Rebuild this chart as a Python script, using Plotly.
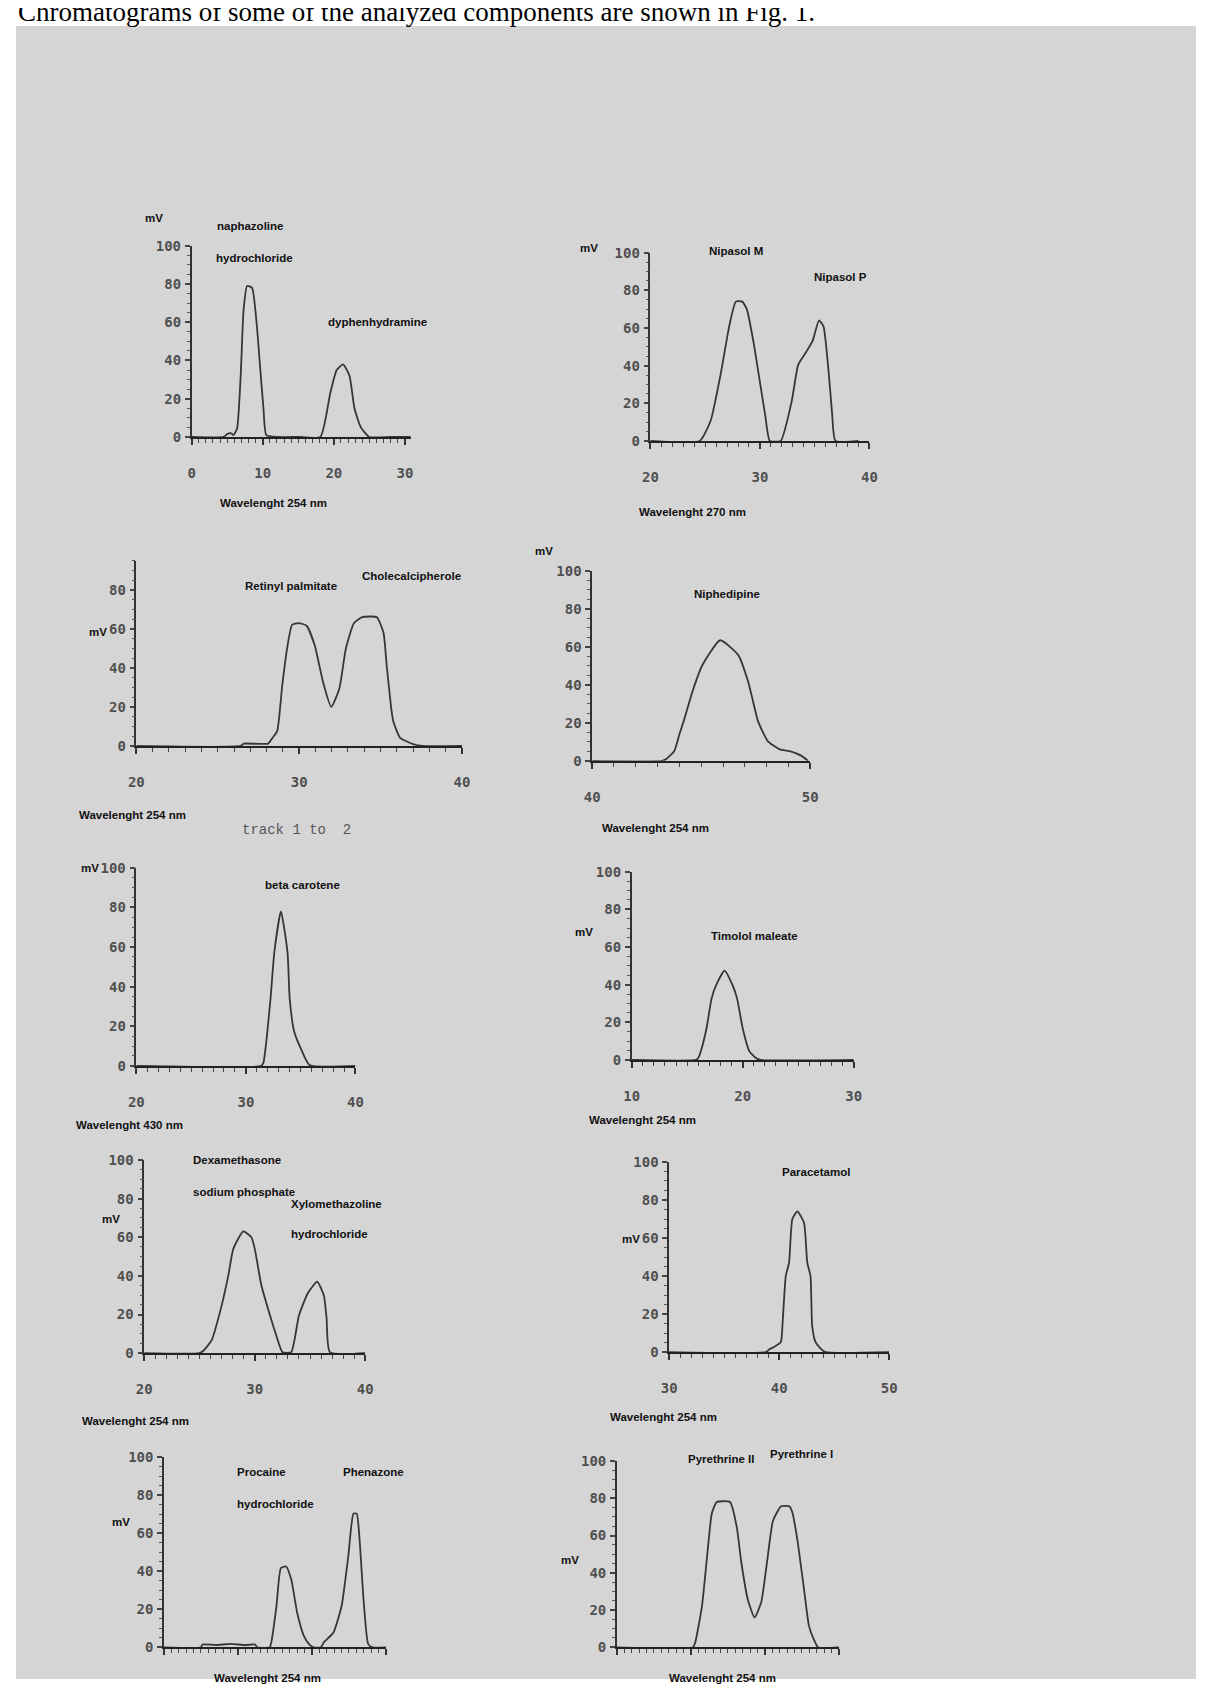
import plotly.graph_objects as go

PAGE_W, PAGE_H = 1212, 1695
BODY = 8                      # default page margin around the plot div
W, H = PAGE_W - 2 * BODY, PAGE_H - 2 * BODY

# ---------------- data ----------------
# Panel 1 : naphazoline hydrochloride / dyphenhydramine
p1_x = [0, 4.5, 5.0, 5.5, 5.9, 6.4, 6.9, 7.3, 7.8, 8.5, 9.2, 9.6, 10.1, 10.5, 12, 15, 18.1, 19.5, 20.4, 21.3, 22.2, 22.9, 23.8, 25.0, 28, 30.8]
p1_y = [0, 0, 1.5, 2, 1, 4.6, 32, 66, 79, 78, 57, 38, 15, 1, 0, 0, 0, 23, 35, 38, 32, 15, 5, 0, 0, 0]
# Panel 2 : Nipasol M / Nipasol P
p2_x = [20, 24.5, 25.5, 26.4, 27.2, 27.8, 28.4, 28.8, 29.4, 29.9, 30.5, 30.9, 31.9, 32.9, 33.5, 34.2, 34.8, 35.4, 35.8, 36.3, 36.6, 36.9, 39]
p2_y = [0, 0, 10.7, 35, 61, 74, 74, 70, 53, 35, 13, 0, 0, 21, 40.5, 47, 53, 64, 61, 35, 14, 0, 0]
# Panel 3 : Retinyl palmitate / Cholecalcipherole
p3_x = [20, 26.4, 26.6, 28.1, 28.35, 28.65, 28.96, 29.26, 29.56, 29.96, 30.46, 30.96, 31.46, 31.97, 32.47, 32.87, 33.37, 33.87, 34.77, 35.18, 35.38, 35.68, 35.78, 36.2, 37.0, 37.6, 40]
p3_y = [0, 0, 1.2, 1.2, 4, 7.6, 31, 50, 62, 63, 61.6, 51.5, 33, 20, 29.5, 50, 63, 66, 66, 58, 41, 17.7, 12.7, 4.2, 1, 0, 0]
# Panel 4 : beta carotene
p4_x = [20, 31.4, 31.6, 31.9, 32.25, 32.6, 33.2, 33.8, 34.0, 34.4, 35.0, 35.8, 40]
p4_y = [0, 0, 1.5, 14, 34, 57.5, 78, 57.5, 34, 17.5, 9, 0.5, 0]
# Panel 5 : Dexamethasone sodium phosphate / Xylomethazoline hydrochloride
p5_x = [20, 25.0, 25.4, 26.1, 27.0, 27.6, 28.06, 28.96, 29.7, 30.0, 30.6, 31.2, 31.9, 32.5, 33.3, 34.0, 34.8, 35.65, 36.25, 36.5, 36.8, 40]
p5_y = [0, 0, 1.5, 6.7, 24.6, 40, 54, 63, 60, 54, 35, 23, 10, 0.5, 0.5, 19.5, 31, 37, 30, 18, 0.5, 0]
# Panel 6 : Niphedipine
p6_x = [40, 43.2, 43.4, 43.76, 44.0, 44.2, 44.6, 45.04, 45.87, 46.7, 47.15, 47.6, 47.75, 48.05, 48.6, 49.1, 49.6, 49.9]
p6_y = [0, 0, 1, 5, 14, 21, 36.5, 50, 63.4, 55.6, 41.7, 21, 17, 10.4, 6, 5, 2.6, 0]
# Panel 7 : Timolol maleate
p7_x = [10, 15.8, 16.0, 16.3, 16.75, 17.2, 17.6, 18.37, 19.1, 19.5, 20.0, 20.6, 21.2, 21.6, 30]
p7_y = [0, 0, 1, 6, 17, 32.6, 39.6, 47.5, 39.6, 32.6, 17, 4.7, 1, 0, 0]
# Panel 8 : Paracetamol
p8_x = [30, 38.8, 39.1, 39.57, 40.16, 40.3, 40.6, 40.9, 41.2, 41.66, 42.26, 42.56, 42.85, 43.0, 43.3, 43.75, 44.2, 50]
p8_y = [0, 0, 1.5, 2.8, 5.4, 14, 40, 47, 70, 74, 68, 47, 40, 14, 5.4, 2, 0, 0]
# Panel 9 : Procaine hydrochloride / Phenazone
p9_x = [0, 5.0, 5.2, 7, 9, 11, 12.3, 12.6, 14.3, 14.5, 15.2, 15.8, 16.5, 17.2, 18.0, 18.9, 19.6, 20.2, 21.2, 21.6, 22.9, 24.0, 24.9, 25.6, 26.04, 26.5, 26.9, 27.6, 28.2, 30]
p9_y = [0, 0, 1.5, 1.2, 1.8, 1.2, 1.5, 0, 0, 2.6, 21.7, 41.7, 42.5, 35.6, 18.2, 6, 1.7, 0, 0, 2.6, 7.8, 21.7, 47.7, 70.3, 70.3, 53, 28.6, 1.7, 0, 0]
# Panel 10 : Pyrethrine II / Pyrethrine I
p10_x = [0, 10.3, 10.6, 11.5, 12.2, 12.84, 13.5, 15.3, 16.2, 16.84, 17.7, 18.6, 19.5, 20.4, 21.1, 22.2, 23.3, 23.7, 24.4, 25.3, 25.96, 26.6, 27.2, 30]
p10_y = [0, 0, 2.7, 22, 49, 72, 78, 78, 64.7, 45, 25.7, 16, 24, 49, 68, 75.7, 75.7, 72.7, 57.6, 31, 11.5, 4.4, 0, 0]

# panels in page order (row by row, left then right)
series = [(p1_x, p1_y), (p2_x, p2_y), (p3_x, p3_y), (p6_x, p6_y), (p4_x, p4_y),
          (p7_x, p7_y), (p5_x, p5_y), (p8_x, p8_y), (p9_x, p9_y), (p10_x, p10_y)]
x_ranges = [[0, 30.8], [20, 40], [20, 40], [40, 50], [20, 40], [10, 30], [20, 40], [30, 50], [0, 30], [0, 30]]
x_labelled = [True, True, True, True, True, True, True, True, False, False]
y_tops = [100, 100, 95, 100, 100, 100, 100, 100, 100, 100]
x_titles = ["Wavelenght 254 nm", "Wavelenght 270 nm", "Wavelenght 254 nm", "Wavelenght 254 nm",
            "Wavelenght 430 nm", "Wavelenght 254 nm", "Wavelenght 254 nm", "Wavelenght 254 nm",
            "Wavelenght 254 nm", "Wavelenght 254 nm"]
peak_labels = [
    ["naphazoline", "hydrochloride", "dyphenhydramine"],
    ["Nipasol M", "Nipasol P"],
    ["Retinyl palmitate", "Cholecalcipherole"],
    ["Niphedipine"],
    ["beta carotene"],
    ["Timolol maleate"],
    ["Dexamethasone", "sodium phosphate", "Xylomethazoline", "hydrochloride"],
    ["Paracetamol"],
    ["Procaine", "hydrochloride", "Phenazone"],
    ["Pyrethrine II", "Pyrethrine I"],
]

# ---------------- layout geometry (pixels of the 1212 x 1695 page) ----------------
# each panel: x pixel of range start / end, y pixel of value 0 and of value 100
boxes = [
    (186, 408, 433, 240),
    (651, 873, 437, 247),
    (130, 460, 745, 548),
    (592, 813, 760, 568),
    (130, 352, 1068, 868),
    (632, 857, 1062, 872),
    (138, 362, 1358, 1163),
    (670, 893, 1357, 1165),
    (158, 383, 1655, 1463),
    (617, 842, 1655, 1467),
]
title_pos = [(213, 500), (637, 509), (70, 815), (600, 828), (67, 1128),
             (587, 1123), (73, 1427), (608, 1422), (207, 1686), (668, 1686)]
mv_pos = [(137, 212), (578, 242), (80, 630), (532, 548), (72, 868),
          (573, 933), (93, 1223), (620, 1243), (103, 1528), (558, 1567)]
label_pos = [
    [(210, 220), (209, 252), (322, 317)],
    [(708, 245), (815, 272)],
    [(238, 583), (357, 573)],
    [(693, 592)],
    [(258, 885)],
    [(710, 937)],
    [(185, 1163), (185, 1195), (285, 1207), (285, 1238)],
    [(782, 1175)],
    [(230, 1478), (230, 1510), (337, 1478)],
    [(687, 1465), (770, 1460)],
]

BG = "#d5d5d5"
INK = "#363636"
LABEL_FONT = dict(family="Liberation Sans, Arial, sans-serif", size=11.5, color="#111111", weight="bold")
TICK_FONT = dict(family="DejaVu Sans Mono, Liberation Mono, monospace", size=14, color="#505050", weight="bold")


def px(x):
    return (x - BODY) / W


def py(y):
    return 1 - (y - BODY) / H


fig = go.Figure()
annotations = []
layout = {}
for i, ((xs, ys), (xl, xr, y0, y100)) in enumerate(zip(series, boxes)):
    n = i + 1
    sfx = "" if n == 1 else str(n)
    top = y_tops[i]
    ytop_px = y0 - (y0 - y100) * top / 100.0
    fig.add_trace(go.Scatter(
        x=xs, y=ys, mode="lines", line=dict(color=INK, width=1.8, shape="spline", smoothing=0.5),
        xaxis="x" + sfx, yaxis="y" + sfx, showlegend=False, hoverinfo="skip"))
    layout["xaxis" + sfx] = dict(
        domain=[px(xl), px(xr)], anchor="y" + sfx, range=x_ranges[i],
        showgrid=False, zeroline=False, showline=True, linecolor="#222", linewidth=2,
        ticks="outside", ticklen=6, tickwidth=1.5, tickcolor="#333",
        dtick=10, tick0=0, showticklabels=x_labelled[i], tickfont=TICK_FONT,
        ticklabelstandoff=16,
        minor=dict(ticks="outside", dtick=1, ticklen=4, tickwidth=1.2, tickcolor="#444"),
    )
    layout["yaxis" + sfx] = dict(
        domain=[py(y0), py(ytop_px)], anchor="x" + sfx, range=[0, top],
        showgrid=False, zeroline=False, showline=True, linecolor="#333", linewidth=1.5,
        ticks="outside", ticklen=5, tickwidth=1.5, tickcolor="#444",
        dtick=20, tick0=0, tickfont=TICK_FONT, ticklabelstandoff=1,
        minor=dict(ticks="outside", dtick=5, ticklen=3, tickwidth=1.2, tickcolor="#555"),
    )
    tx, ty = title_pos[i]
    annotations.append(dict(text=x_titles[i], x=px(tx), y=py(ty), xref="paper", yref="paper",
                            xanchor="left", yanchor="middle", showarrow=False, font=LABEL_FONT))
    mx, my = mv_pos[i]
    annotations.append(dict(text="mV", x=px(mx), y=py(my), xref="paper", yref="paper",
                            xanchor="left", yanchor="middle", showarrow=False, font=LABEL_FONT))
    for txt, (lx, ly) in zip(peak_labels[i], label_pos[i]):
        annotations.append(dict(text=txt, x=px(lx), y=py(ly), xref="paper", yref="paper",
                                xanchor="left", yanchor="middle", showarrow=False, font=LABEL_FONT))

annotations.append(dict(text="track 1 to  2", x=px(235), y=py(830), xref="paper", yref="paper",
                        xanchor="left", yanchor="middle", showarrow=False,
                        font=dict(family="Liberation Mono, DejaVu Sans Mono, monospace", size=14, color="#555")))
# page text above the figure, cut by the top edge as in the scan
annotations.append(dict(text="Chromatograms of some of the analyzed components are shown in Fig. 1.",
                        x=px(8), y=py(21.5), xref="paper", yref="paper", xanchor="left", yanchor="bottom",
                        showarrow=False,
                        font=dict(family="Liberation Serif, Times New Roman, serif", size=27, color="#000")))

shapes = [dict(type="rect", xref="paper", yref="paper", x0=0, x1=1.0, y0=0, y1=py(18),
               fillcolor=BG, line=dict(width=0), layer="below")]

fig.update_layout(
    width=W, height=H, autosize=False, margin=dict(l=0, r=0, t=0, b=0),
    paper_bgcolor="#ffffff", plot_bgcolor="rgba(0,0,0,0)",
    annotations=annotations, shapes=shapes, **layout,
)
fig.write_html("out.html", config={"displayModeBar": False})
